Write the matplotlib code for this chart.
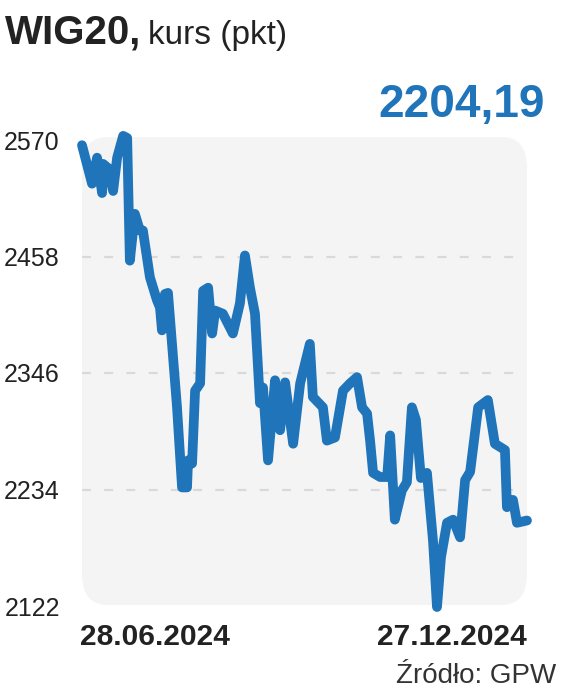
import matplotlib
matplotlib.use("Agg")
import matplotlib.pyplot as plt
from matplotlib.patches import FancyBboxPatch

# WIG20 close (session index, points)
sessions = [0, 3, 4.5, 6, 6.3, 7.8, 9.3, 10.5, 12.3, 13.5, 14.3, 15.8, 17.3, 18.2,
            20.3, 22.4, 23.3, 23.9, 24.8, 25.7, 28.4, 29.9, 31.4, 31.7, 32.9, 33.8,
            35.3, 36.2, 37.7, 38.9, 39.8, 42.1, 45.1, 47.2, 48.7, 50.2, 51.7, 53.2,
            54.1, 55.6, 57.7, 59.2, 60.7, 63.1, 65.2, 68.1, 69, 72, 73.2, 75.6, 78,
            80.1, 82.2, 83.7, 85.2, 86.1, 87, 89.1, 91.2, 92.1, 93.5, 95.6, 97.1,
            98.6, 99.8, 101.3, 103.1, 104.9, 106.1, 107.3, 109.1, 110.9, 113, 114.5,
            116, 118.4, 121.3, 123.4, 126.4, 127, 128.8, 130, 133]
values = [2565, 2528, 2553, 2519, 2547, 2543, 2521, 2553, 2574, 2572, 2454, 2499,
          2483, 2483, 2438, 2416, 2409, 2387, 2422, 2423, 2313, 2236, 2236, 2262,
          2259, 2329, 2336, 2425, 2428, 2384, 2406, 2403, 2384, 2413, 2459, 2428,
          2403, 2317, 2332, 2262, 2339, 2291, 2337, 2278, 2336, 2374, 2323, 2313,
          2281, 2284, 2329, 2336, 2342, 2313, 2307, 2281, 2250, 2246, 2246, 2286,
          2205, 2233, 2241, 2313, 2301, 2245, 2250, 2185, 2121, 2169, 2202, 2205,
          2188, 2243, 2251, 2313, 2320, 2278, 2272, 2217, 2224, 2202, 2204.19]

yticks = [2122, 2234, 2346, 2458, 2570]
grid_levels = [2234, 2346, 2458]
date_first = "28.06.2024"
date_last = "27.12.2024"
last_value = "2204,19"

BLUE = "#1f74ba"
DARK = "#222222"
FONT = ["Liberation Sans", "DejaVu Sans"]

W, H = 564, 693
fig = plt.figure(figsize=(W / 100, H / 100), dpi=100)

ax = fig.add_axes([82 / W, 1 - 606 / H, (527 - 82) / W, (606 - 140) / H])
ax.patch.set_alpha(0)
ax.set_xlim(sessions[0], sessions[-1])
ax.set_ylim(yticks[0], yticks[-1])

# grey rounded panel behind the plot
panel = FancyBboxPatch((82 / W, 1 - 605 / H), (527 - 82) / W, (605 - 137) / H,
                       boxstyle="round,pad=0,rounding_size=0.045",
                       transform=fig.transFigure, facecolor="#f4f4f4",
                       edgecolor="none", zorder=0, clip_on=False)
ax.add_patch(panel)

for lvl in grid_levels:
    ax.plot([sessions[0], sessions[-1] - 2], [lvl, lvl], color="#d9d9d9", lw=1.6,
            ls=(0, (4, 6)), zorder=1)

ax.plot(sessions, values, color=BLUE, lw=7, solid_joinstyle="round",
        solid_capstyle="round", clip_on=False, zorder=3)

for s in ax.spines.values():
    s.set_visible(False)
ax.set_xticks([])
ax.set_yticks(yticks)
ax.set_yticklabels([str(t) for t in yticks], family=FONT, fontsize=18, color=DARK)
ax.tick_params(axis="y", length=0, pad=16)

fig.text(80 / W, 1 - 645 / H, date_first, family=FONT, fontsize=21.5,
         fontweight="bold", color=DARK, ha="left", va="baseline")
fig.text(527 / W, 1 - 645 / H, date_last, family=FONT, fontsize=21.5,
         fontweight="bold", color=DARK, ha="right", va="baseline")

fig.text(545 / W, 1 - 117 / H, last_value, family=FONT, fontsize=33,
         fontweight="bold", color=BLUE, ha="right", va="baseline")

fig.text(5 / W, 1 - 44 / H, "WIG20,", family=FONT, fontsize=29,
         fontweight="bold", color=DARK, ha="left", va="baseline")
fig.text(148 / W, 1 - 44 / H, "kurs (pkt)", family=FONT, fontsize=24,
         color=DARK, ha="left", va="baseline")

fig.text(556 / W, 1 - 683 / H, "Źródło: GPW", family=FONT, fontsize=20,
         color="#333333", ha="right", va="baseline")

fig.savefig("out.png", dpi=100, facecolor="white")
